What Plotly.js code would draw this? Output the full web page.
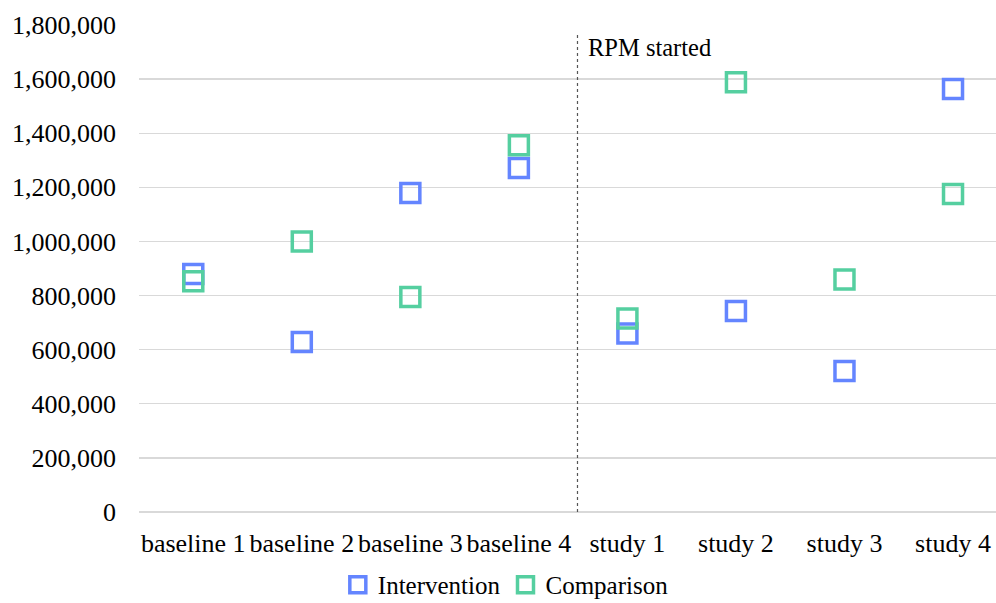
<!DOCTYPE html>
<html>
<head>
<meta charset="utf-8">
<script src="https://cdn.plot.ly/plotly-3.0.1.min.js"></script>
<style>html,body{margin:0;padding:0;background:#fff;}#chart{width:996px;height:603px;}</style>
</head>
<body>
<div id="chart"></div>
<script>
const categories = ["baseline 1","baseline 2","baseline 3","baseline 4","study 1","study 2","study 3","study 4"];
const intervention = [880000, 628000, 1179000, 1271000, 660000, 743000, 521000, 1563000];
const comparison = [853000, 1000000, 795000, 1356000, 715000, 1588000, 859000, 1175000];
const yTicks = [0, 200000, 400000, 600000, 800000, 1000000, 1200000, 1400000, 1600000, 1800000];
const dividerLabel = "RPM started";

const FONT = "Liberation Serif, Times New Roman, serif";
const BLUE = "#6485FF";
const GREEN = "#55CFA0";

const traces = [
  {x: categories, y: intervention, name: "Intervention", type: "scatter", mode: "markers",
   marker: {symbol: "square-open", size: 19, color: BLUE, line: {width: 3.5, color: BLUE}}},
  {x: categories, y: comparison, name: "Comparison", type: "scatter", mode: "markers",
   marker: {symbol: "square-open", size: 19, color: GREEN, line: {width: 3.5, color: GREEN}}}
];

const layout = {
  width: 996, height: 603,
  margin: {l: 139, r: 0, t: 25, b: 91},
  paper_bgcolor: "#fff", plot_bgcolor: "#fff",
  font: {family: FONT, size: 26, color: "#000"},
  showlegend: true,
  legend: {orientation: "h", x: 0.232, xanchor: "left", yref: "container", y: 0.03, yanchor: "middle",
           font: {family: FONT, size: 25, color: "#000"}, itemwidth: 30, tracegroupgap: 0},
  xaxis: {type: "category", range: [-0.5, 7.396], showgrid: false, zeroline: false,
          showline: false, ticks: "", tickfont: {family: FONT, size: 26, color: "#000"},
          ticklabelstandoff: 13, fixedrange: true},
  yaxis: {range: [0, 1800000], tickvals: yTicks, tickformat: ",d", showgrid: true,
          gridcolor: "#d9d9d9", gridwidth: 1.3, zeroline: true, zerolinecolor: "#d9d9d9",
          zerolinewidth: 1.3, showline: false, ticks: "",
          tickfont: {family: FONT, size: 26, color: "#000"}, ticklabelstandoff: 22, fixedrange: true},
  shapes: [{type: "line", xref: "x", yref: "y", x0: 3.54, x1: 3.54, y0: 0, y1: 1770000,
            line: {color: "#555", width: 1.2, dash: "3px,3px"}}],
  annotations: [{xref: "x", yref: "y", x: 3.54, y: 1716000, xanchor: "left", yanchor: "middle",
                 xshift: 9, text: dividerLabel, showarrow: false,
                 font: {family: FONT, size: 24.5, color: "#000"}}]
};

Plotly.newPlot("chart", traces, layout, {displayModeBar: false, staticPlot: true});
</script>
</body>
</html>
